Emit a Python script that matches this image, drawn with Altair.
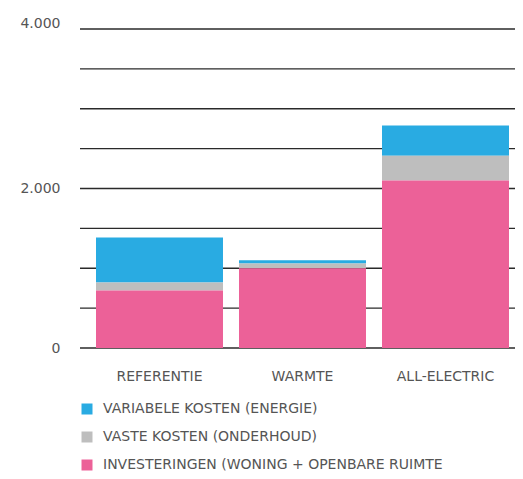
import altair as alt
import pandas as pd

categories = ["REFERENTIE", "WARMTE", "ALL-ELECTRIC"]
series = [
    "VARIABELE KOSTEN (ENERGIE)",
    "VASTE KOSTEN (ONDERHOUD)",
    "INVESTERINGEN (WONING + OPENBARE RUIMTE",
]
variabel = [565, 40, 380]
vast = [100, 60, 310]
investering = [720, 1000, 2100]
colors = ["#29ABE2", "#BEBEBE", "#EC6198"]
stack_order = [3, 2, 1]
y_ticks = [0, 500, 1000, 1500, 2000, 2500, 3000, 3500, 4000]

rows = []
for i, cat in enumerate(categories):
    for s, vals, o in zip(series, [variabel, vast, investering], stack_order):
        rows.append({"categorie": cat, "reeks": s, "waarde": vals[i], "volgorde": o})
df = pd.DataFrame(rows)
grid_df = pd.DataFrame({"waarde": y_ticks})

FONT = "DejaVu Sans"
TXT = "#555555"
W = 435
H = 319

y_scale = alt.Scale(domain=[0, 4000], nice=False)
y_axis = alt.Axis(
    values=y_ticks,
    labelExpr="datum.value % 2000 === 0 ? replace(format(datum.value, ',d'), ',', '.') : ''",
    ticks=False, domain=False, grid=False,
    labelPadding=20, labelFontSize=14, labelColor=TXT, labelFont=FONT,
    labelFlush=False,
    labelBaseline={"condition": {"test": "datum.value === 4000", "value": "alphabetic"}, "value": "middle"},
    labelOffset={"condition": {"test": "datum.value === 4000", "value": -2}, "value": 0},
)

grid = alt.Chart(grid_df).mark_rule(color="#2a2a2a", strokeWidth=1.3).encode(
    y=alt.Y("waarde:Q", scale=y_scale, axis=y_axis, title=None),
    x=alt.value(0),
    x2=alt.value(W),
)

bars = alt.Chart(df).mark_bar().encode(
    x=alt.X(
        "categorie:N",
        sort=categories,
        title=None,
        scale=alt.Scale(paddingInner=0.112, paddingOuter=0, range=[16, 429]),
        axis=alt.Axis(
            labelAngle=0, ticks=False, domain=False, grid=False,
            labelPadding=21, labelFontSize=14, labelColor=TXT,
            labelFont=FONT, labelBaseline="top",
        ),
    ),
    y=alt.Y("waarde:Q", stack="zero", title=None, scale=y_scale, axis=y_axis),
    color=alt.Color(
        "reeks:N",
        scale=alt.Scale(domain=series, range=colors),
        legend=alt.Legend(
            title=None, orient="none", legendX=0, legendY=373,
            symbolType="square", symbolSize=121, symbolStrokeWidth=0,
            labelFontSize=14, labelColor=TXT, labelFont=FONT,
            labelOffset=9, rowPadding=14, labelLimit=600,
        ),
    ),
    order=alt.Order("volgorde:Q", sort="ascending"),
)

chart = alt.layer(grid, bars).properties(
    width=W,
    height=H,
    autosize=alt.AutoSizeParams(type="none"),
    padding={"left": 72, "top": 21, "right": 0, "bottom": 123},
).configure_view(stroke=None)

chart.save("out.html", embed_options={"renderer": "svg", "actions": False})
